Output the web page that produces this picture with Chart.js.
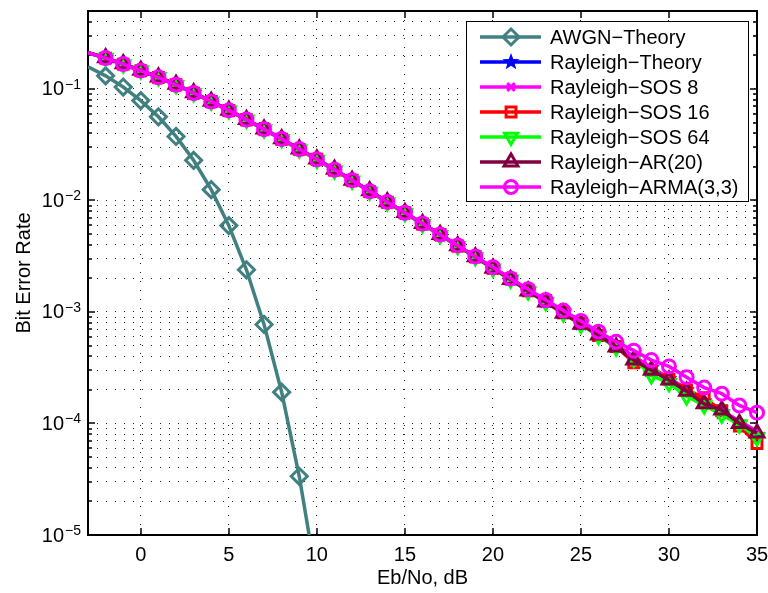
<!DOCTYPE html>
<html>
<head>
<meta charset="utf-8">
<script src="https://cdn.jsdelivr.net/npm/chart.js@4/dist/chart.umd.min.js"></script>
<style>
  body { margin: 0; background: #fff; }
  #wrap { width: 768px; height: 593px; }
</style>
</head>
<body>
<div id="wrap"><canvas id="myChart"></canvas></div>
<script>
// Eb/No axis (dB)
const ebno = [-3, -2, -1, 0, 1, 2, 3, 4, 5, 6, 7, 8, 9, 10, 11, 12, 13, 14, 15, 16, 17, 18, 19,
              20, 21, 22, 23, 24, 25, 26, 27, 28, 29, 30, 31, 32, 33, 34, 35];
const ebnoAwgn = [-3, -2, -1, 0, 1, 2, 3, 4, 5, 6, 7, 8, 9, 10];

const berAwgn = [0.158, 0.131, 0.104, 0.0786, 0.0563, 0.0375, 0.0229, 0.0125, 0.00595, 0.00239,
                 0.000773, 0.000191, 0.0000336, 0.00000387];
const berRayTheory = [0.211, 0.189, 0.167, 0.146, 0.127, 0.109, 0.0919, 0.0771, 0.0642, 0.0530,
                      0.0435, 0.0355, 0.0288, 0.0233, 0.0188, 0.0151, 0.0121, 0.00967, 0.00773, 0.00617,
                      0.00492, 0.00392, 0.00312, 0.00248, 0.00197, 0.00157, 0.00125, 0.000992, 0.000789, 0.000627,
                      0.000498, 0.000396, 0.000315, 0.000250, 0.000199, 0.000158, 0.000126, 0.0000997, 0.0000791];
const berSos8 = [0.211, 0.189, 0.167, 0.146, 0.127, 0.109, 0.0920, 0.0770, 0.0643, 0.0531,
                 0.0434, 0.0356, 0.0289, 0.0232, 0.0189, 0.0150, 0.0122, 0.00970, 0.00770, 0.00620,
                 0.00490, 0.00395, 0.00310, 0.00250, 0.00196, 0.00158, 0.00124, 0.00100, 0.000780, 0.000635,
                 0.000505, 0.000400, 0.000320, 0.000255, 0.000205, 0.000160, 0.000130, 0.000105, 0.0000850];
const berSos16 = [0.211, 0.189, 0.167, 0.146, 0.127, 0.109, 0.0918, 0.0772, 0.0641, 0.0529,
                  0.0436, 0.0354, 0.0287, 0.0234, 0.0187, 0.0152, 0.0120, 0.00965, 0.00775, 0.00615,
                  0.00495, 0.00390, 0.00313, 0.00246, 0.00198, 0.00155, 0.00126, 0.000985, 0.000795, 0.000615,
                  0.000490, 0.000350, 0.000300, 0.000250, 0.000200, 0.000170, 0.000130, 0.0000950, 0.0000660];
const berSos64 = [0.211, 0.189, 0.166, 0.146, 0.127, 0.108, 0.0917, 0.0769, 0.0640, 0.0528,
                  0.0433, 0.0353, 0.0286, 0.0231, 0.0186, 0.0150, 0.0120, 0.00960, 0.00768, 0.00612,
                  0.00488, 0.00388, 0.00309, 0.00244, 0.00195, 0.00153, 0.00122, 0.000970, 0.000770, 0.000610,
                  0.000480, 0.000380, 0.000270, 0.000230, 0.000175, 0.000145, 0.000120, 0.0000980, 0.0000750];
const berAr20 = [0.212, 0.190, 0.168, 0.147, 0.128, 0.110, 0.0925, 0.0775, 0.0645, 0.0533,
                 0.0438, 0.0357, 0.0290, 0.0235, 0.0190, 0.0152, 0.0122, 0.00975, 0.00778, 0.00620,
                 0.00495, 0.00393, 0.00312, 0.00247, 0.00196, 0.00154, 0.00123, 0.000975, 0.000775, 0.000620,
                 0.000485, 0.000370, 0.000300, 0.000245, 0.000195, 0.000150, 0.000132, 0.000100, 0.0000820];
const berArma = [0.211, 0.189, 0.167, 0.146, 0.127, 0.109, 0.0920, 0.0772, 0.0643, 0.0531,
                 0.0436, 0.0356, 0.0289, 0.0234, 0.0189, 0.0152, 0.0121, 0.00970, 0.00776, 0.00620,
                 0.00495, 0.00395, 0.00315, 0.00252, 0.00200, 0.00160, 0.00128, 0.00103, 0.000830, 0.000665,
                 0.000540, 0.000450, 0.000370, 0.000325, 0.000260, 0.000210, 0.000185, 0.000145, 0.000125];

const seriesNames = ['AWGN\u2212Theory', 'Rayleigh\u2212Theory', 'Rayleigh\u2212SOS 8', 'Rayleigh\u2212SOS 16',
                     'Rayleigh\u2212SOS 64', 'Rayleigh\u2212AR(20)', 'Rayleigh\u2212ARMA(3,3)'];
const xTickValues = [0, 5, 10, 15, 20, 25, 30, 35];
const yDecades = [-5, -4, -3, -2, -1];

const FONT = "'Liberation Sans', Arial, Helvetica, sans-serif";

// grid / tick positions for the log axis: 1..9 x each decade, up to 0.5
const yGrid = [];
yDecades.forEach(function (e) {
    for (let m = 1; m <= 9; m++) {
        const v = m * Math.pow(10, e);
        if (v <= 0.5 + 1e-12) yGrid.push(v);
    }
});

function makeStar(color, r) {
    const c = document.createElement('canvas');
    const s = Math.ceil(r * 2 + 2);
    c.width = s; c.height = s;
    const g = c.getContext('2d');
    g.fillStyle = color;
    g.beginPath();
    for (let i = 0; i < 10; i++) {
        const a = -Math.PI / 2 + i * Math.PI / 5;
        const rr = i % 2 ? r * 0.42 : r;
        g.lineTo(s / 2 + rr * Math.cos(a), s / 2 + rr * Math.sin(a));
    }
    g.closePath();
    g.fill();
    return c;
}
const starImg = makeStar('#0000ff', 9);

function pts(xs, ys) {
    return xs.map(function (x, i) { return { x: x, y: ys[i] }; });
}

// marker spec per series
const styles = [
    { color: '#408080', style: 'rectRot', r: 8, rot: 0 },
    { color: '#0000ff', style: starImg, r: 8, rot: 0 },
    { color: '#ff00ff', style: 'crossRot', r: 4, rot: 0 },
    { color: '#ff0000', style: 'rect', r: 7, rot: 0 },
    { color: '#00ff00', style: 'triangle', r: 7.5, rot: 180 },
    { color: '#800040', style: 'triangle', r: 8, rot: 0 },
    { color: '#ff00ff', style: 'circle', r: 6.5, rot: 0 }
];
const seriesData = [pts(ebnoAwgn, berAwgn), pts(ebno, berRayTheory), pts(ebno, berSos8), pts(ebno, berSos16),
                    pts(ebno, berSos64), pts(ebno, berAr20), pts(ebno, berArma)];

const datasets = seriesData.map(function (d, i) {
    const s = styles[i];
    return {
        label: seriesNames[i],
        data: d,
        borderColor: s.color,
        backgroundColor: s.color,
        borderWidth: 3.5,
        pointStyle: s.style,
        pointRotation: s.rot,
        pointRadius: function (c) { return c.dataIndex === 0 ? 0 : s.r; },
        pointBorderColor: s.color,
        pointBackgroundColor: 'rgba(0,0,0,0)',
        pointBorderWidth: 3,
        tension: 0,
        clip: { left: 0, top: 0, right: 12, bottom: 0 },
        order: seriesNames.length - 1 - i
    };
});

// MATLAB style box with inward ticks
const frameTicks = {
    id: 'frameTicks',
    beforeDatasetsDraw(chart) {
        const { ctx, chartArea: a, scales } = chart;
        const x = scales.x, y = scales.y;
        ctx.save();
        ctx.strokeStyle = '#000';
        ctx.lineWidth = 1.5;
        function seg(x1, y1, x2, y2) { ctx.beginPath(); ctx.moveTo(x1, y1); ctx.lineTo(x2, y2); ctx.stroke(); }
        xTickValues.forEach(function (v) {
            const px = Math.round(x.getPixelForValue(v));
            seg(px, a.bottom, px, a.bottom - 7);
            seg(px, a.top, px, a.top + 7);
        });
        yGrid.forEach(function (v, i) {
            const len = (i % 9 === 0) ? 7 : 4;
            const py = Math.round(y.getPixelForValue(v));
            seg(a.left, py, a.left + len, py);
            seg(a.right, py, a.right - len, py);
        });
        ctx.lineWidth = 2;
        ctx.strokeRect(a.left, a.top, a.right - a.left, a.bottom - a.top);
        ctx.restore();
    },
    afterDraw(chart) {
        const { ctx, chartArea: a, scales } = chart;
        const y = scales.y;
        ctx.save();
        ctx.fillStyle = '#000';
        yDecades.forEach(function (e) {
            const py = y.getPixelForValue(Math.pow(10, e));
            ctx.font = '20px ' + FONT;
            ctx.textAlign = 'right';
            ctx.textBaseline = 'middle';
            ctx.fillText('10', a.left - 24, py + 1);
            ctx.font = '14px ' + FONT;
            ctx.textAlign = 'left';
            ctx.textBaseline = 'alphabetic';
            ctx.fillText('\u2212' + (-e), a.left - 23, py);
        });
        ctx.restore();
    }
};

function drawMarker(ctx, s, cx, cy) {
    ctx.save();
    ctx.strokeStyle = s.color;
    ctx.lineWidth = 3;
    ctx.beginPath();
    if (s.style === 'rectRot') {
        ctx.moveTo(cx, cy - s.r); ctx.lineTo(cx + s.r, cy); ctx.lineTo(cx, cy + s.r); ctx.lineTo(cx - s.r, cy); ctx.closePath();
        ctx.stroke();
    } else if (s.style === 'rect') {
        const h = s.r * Math.SQRT1_2;
        ctx.rect(cx - h, cy - h, 2 * h, 2 * h);
        ctx.stroke();
    } else if (s.style === 'circle') {
        ctx.arc(cx, cy, s.r, 0, Math.PI * 2);
        ctx.stroke();
    } else if (s.style === 'crossRot') {
        const h = s.r * Math.SQRT1_2 + 1;
        ctx.moveTo(cx - h, cy - h); ctx.lineTo(cx + h, cy + h);
        ctx.moveTo(cx + h, cy - h); ctx.lineTo(cx - h, cy + h);
        ctx.stroke();
    } else if (s.style === 'triangle') {
        let rad = s.rot * Math.PI / 180;
        for (let k = 0; k < 3; k++) {
            const a = rad + k * 2 * Math.PI / 3;
            ctx.lineTo(cx + Math.sin(a) * s.r, cy - Math.cos(a) * s.r);
        }
        ctx.closePath();
        ctx.stroke();
    } else {
        ctx.drawImage(s.style, cx - s.style.width / 2, cy - s.style.height / 2);
    }
    ctx.restore();
}

const legendBox = {
    id: 'legendBox',
    afterDraw(chart) {
        const { ctx, chartArea: a } = chart;
        const w = 282, h = 180;
        const left = a.right - 9 - w, top = a.top + 10;
        ctx.save();
        ctx.fillStyle = '#fff';
        ctx.fillRect(left, top, w, h);
        ctx.strokeStyle = '#000';
        ctx.lineWidth = 1;
        ctx.strokeRect(left + 0.5, top + 0.5, w, h);
        ctx.font = '20px ' + FONT;
        ctx.textAlign = 'left';
        ctx.textBaseline = 'middle';
        seriesNames.forEach(function (name, i) {
            const s = styles[i];
            const ry = top + 16 + i * 25;
            ctx.strokeStyle = s.color;
            ctx.lineWidth = 3.5;
            ctx.beginPath();
            ctx.moveTo(left + 14, ry);
            ctx.lineTo(left + 75, ry);
            ctx.stroke();
            drawMarker(ctx, s, left + 45, ry);
            ctx.fillStyle = '#000';
            ctx.fillText(name, left + 84, ry + 1);
        });
        ctx.restore();
    }
};

const gridOpts = { color: '#222', lineWidth: 1, drawTicks: false };

new Chart(document.getElementById('myChart'), {
    type: 'line',
    data: { datasets: datasets },
    options: {
        responsive: true,
        maintainAspectRatio: false,
        animation: false,
        events: [],
        layout: { padding: { left: 0, right: 9, top: 7, bottom: 0 } },
        plugins: { legend: { display: false }, tooltip: { enabled: false } },
        scales: {
            x: {
                type: 'linear',
                min: -3,
                max: 35,
                afterBuildTicks: function (s) { s.ticks = xTickValues.map(function (v) { return { value: v }; }); },
                afterFit: function (s) { s.height = 58; s.paddingLeft = 0; s.paddingRight = 0; },
                ticks: { padding: 8, color: '#000', autoSkip: false, maxRotation: 0,
                         font: { family: FONT, size: 20 },
                         callback: function (v) { return String(v); } },
                grid: gridOpts,
                border: { display: false, dash: [1, 8] },
                title: { display: true, text: 'Eb/No, dB', color: '#000',
                         font: { family: FONT, size: 20 }, padding: { top: 0, bottom: 3 } }
            },
            y: {
                type: 'logarithmic',
                min: 1e-5,
                max: 0.5,
                afterBuildTicks: function (s) { s.ticks = yGrid.map(function (v) { return { value: v }; }); },
                afterFit: function (s) { s.width = 88; s.paddingTop = 0; s.paddingBottom = 0; },
                ticks: { display: false },
                grid: gridOpts,
                border: { display: false, dash: [1, 8] },
                title: { display: true, text: 'Bit Error Rate', color: '#000',
                         font: { family: FONT, size: 20 }, padding: { top: 12, bottom: 0 } }
            }
        }
    },
    plugins: [frameTicks, legendBox]
});
</script>
</body>
</html>
